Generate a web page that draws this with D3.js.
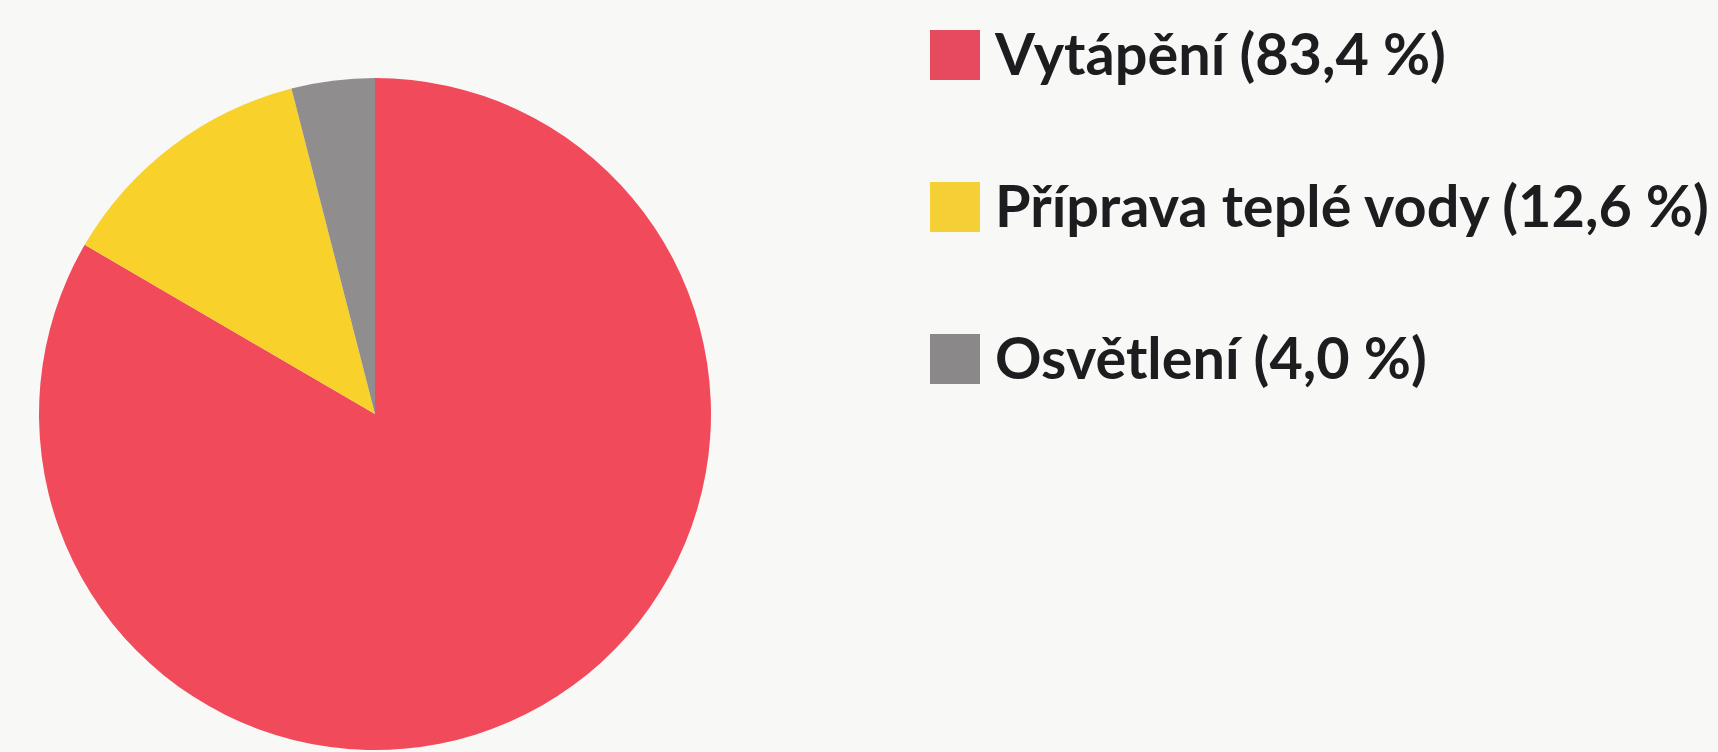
<!DOCTYPE html>
<html>
<head>
<meta charset="utf-8">
<script src="https://cdn.jsdelivr.net/npm/d3@7"></script>
<style>
  html, body { margin: 0; padding: 0; background: #f8f8f7; }
  svg { display: block; }
</style>
</head>
<body>
<svg id="chart" width="1718" height="752"></svg>
<script>
// ---- data ----
const categories = ["Vytápění", "Příprava teplé vody", "Osvětlení"];
const values = [83.4, 12.6, 4.0];
const valueLabels = ["83,4 %", "12,6 %", "4,0 %"];
const colors = ["#f14b5b", "#f8d22a", "#8f8d8d"];
const legendColors = ["#e64a5e", "#f5cf36", "#8a8888"];

const svg = d3.select("#chart");
const W = 1718, H = 752;

svg.append("rect").attr("width", W).attr("height", H).attr("fill", "#f8f8f7");

const cx = 375, cy = 414, r = 336;

const data = categories.map((c, i) => ({ name: c, value: values[i], label: valueLabels[i], color: colors[i], lcolor: legendColors[i] }));

const pie = d3.pie().value(d => d.value).sort(null);
const arc = d3.arc().innerRadius(0).outerRadius(r);

const g = svg.append("g").attr("transform", `translate(${cx},${cy})`);
g.selectAll("path")
  .data(pie(data))
  .join("path")
  .attr("d", arc)
  .attr("fill", d => d.data.color);

// legend
const legendX = 930, sq = 50;
const rowY = d3.scalePoint().domain(categories).range([55, 359]);

const lg = svg.append("g");
const rows = lg.selectAll("g.row")
  .data(data)
  .join("g")
  .attr("class", "row")
  .attr("transform", d => `translate(${legendX},${rowY(d.name)})`);

rows.append("rect")
  .attr("x", 0)
  .attr("y", -sq / 2)
  .attr("width", sq)
  .attr("height", sq)
  .attr("fill", d => d.lcolor);

const texts = rows.append("text")
  .attr("x", 65)
  .attr("y", 0)
  .attr("dy", "0.35em")
  .attr("font-family", "Lato, 'Open Sans', sans-serif")
  .attr("font-weight", "bold")
  .attr("font-size", 50)
  .attr("fill", "#1d1d1f")
  .text(d => `${d.name} (${d.label})`);

// fit longest label to target width
const target = 714;
let maxW = 0;
texts.each(function () { maxW = Math.max(maxW, this.getComputedTextLength()); });
const fs = 50 * target / maxW;
texts.attr("font-size", fs);
</script>
</body>
</html>
